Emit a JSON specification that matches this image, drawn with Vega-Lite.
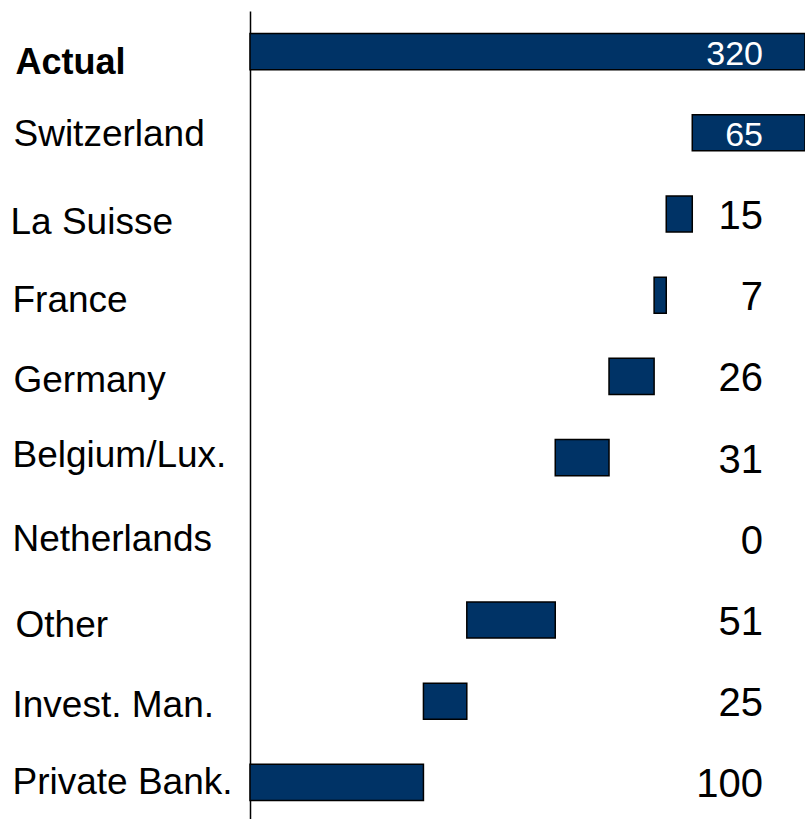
{
  "$schema": "https://vega.github.io/schema/vega-lite/v6.json",
  "width": 555,
  "height": 812,
  "autosize": {"type": "none"},
  "padding": {"left": 250, "top": 11, "right": 0, "bottom": 0},
  "background": "white",
  "config": {"view": {"stroke": null}, "font": "Liberation Sans"},
  "data": {
    "values": [
      {"category": "Actual", "start": 0, "end": 320, "value": 320},
      {"category": "Switzerland", "start": 255, "end": 320, "value": 65},
      {"category": "La Suisse", "start": 240, "end": 255, "value": 15},
      {"category": "France", "start": 233, "end": 240, "value": 7},
      {"category": "Germany", "start": 207, "end": 233, "value": 26},
      {"category": "Belgium/Lux.", "start": 176, "end": 207, "value": 31},
      {"category": "Netherlands", "start": 176, "end": 176, "value": 0},
      {"category": "Other", "start": 125, "end": 176, "value": 51},
      {"category": "Invest. Man.", "start": 100, "end": 125, "value": 25},
      {"category": "Private Bank.", "start": 0, "end": 100, "value": 100}
    ]
  },
  "encoding": {
    "y": {
      "field": "category",
      "type": "nominal",
      "sort": null,
      "scale": {"paddingInner": 0.556, "paddingOuter": 0.278},
      "axis": {
        "title": null,
        "domain": true,
        "domainColor": "#000000",
        "domainWidth": 1.5,
        "ticks": false,
        "tickSize": 0,
        "grid": false,
        "labelAlign": "left",
        "labelBaseline": "middle",
        "labelColor": "#000000",
        "labelLimit": 300,
        "labelFontSize": {"condition": {"test": "datum.value == 'Actual'", "value": 36}, "value": 37},
        "labelFontWeight": {"condition": {"test": "datum.value == 'Actual'", "value": "bold"}, "value": "normal"},
        "labelPadding": {
          "condition": [
            {"test": "datum.value == 'Actual'", "value": 235},
            {"test": "datum.value == 'La Suisse'", "value": 240},
            {"test": "datum.value == 'Other'", "value": 235},
            {"test": "datum.value == 'Switzerland' || datum.value == 'Germany'", "value": 237}
          ],
          "value": 238
        },
        "labelOffset": {
          "condition": [
            {"test": "datum.value == 'Actual'", "value": 11},
            {"test": "datum.value == 'La Suisse'", "value": 9},
            {"test": "datum.value == 'France' || datum.value == 'Other'", "value": 6},
            {"test": "datum.value == 'Germany' || datum.value == 'Invest. Man.'", "value": 5},
            {"test": "datum.value == 'Belgium/Lux.'", "value": -2},
            {"test": "datum.value == 'Switzerland'", "value": 2}
          ],
          "value": 1
        }
      }
    }
  },
  "layer": [
    {
      "mark": {"type": "bar", "fill": "#003366", "stroke": "#000000", "strokeWidth": 1.5},
      "encoding": {
        "x": {"field": "start", "type": "quantitative", "scale": {"domain": [0, 320], "nice": false, "zero": true}, "axis": null},
        "x2": {"field": "end"},
        "strokeOpacity": {"condition": {"test": "datum.value == 0", "value": 0}, "value": 1}
      }
    },
    {
      "mark": {"type": "text", "align": "right", "baseline": "middle", "dx": -42, "dy": 3, "font": "Liberation Sans"},
      "encoding": {
        "x": {"datum": 320, "type": "quantitative"},
        "text": {"field": "value", "type": "quantitative"},
        "color": {"condition": {"test": "datum.category == 'Actual' || datum.category == 'Switzerland'", "value": "#ffffff"}, "value": "#000000"},
        "size": {"condition": {"test": "datum.category == 'Actual' || datum.category == 'Switzerland'", "value": 34}, "value": 40}
      }
    }
  ]
}
